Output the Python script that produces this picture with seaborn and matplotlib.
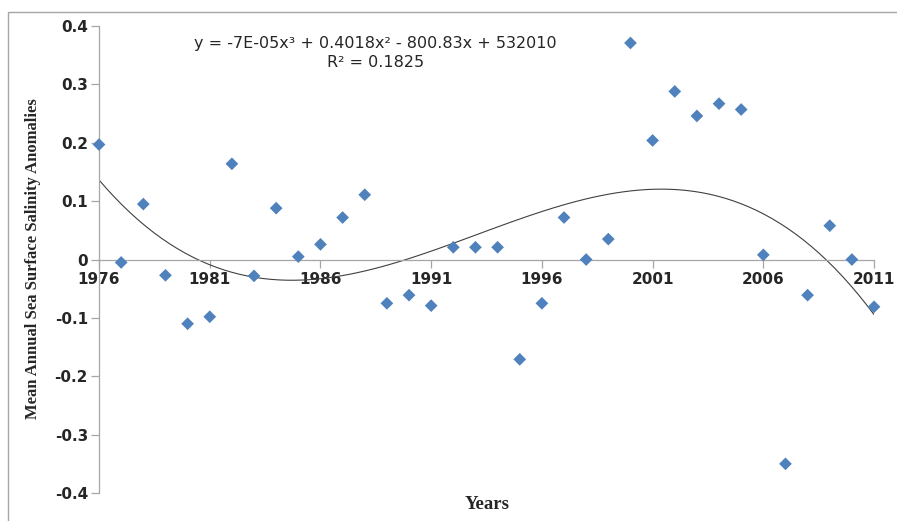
import numpy as np
import pandas as pd
import matplotlib
matplotlib.use('Agg')
import matplotlib.pyplot as plt
import seaborn as sns
from matplotlib.patches import Rectangle

# data
years = list(range(1976, 2012))
anomalies = [0.197, -0.005, 0.095, -0.027, -0.110, -0.098, 0.164, -0.028, 0.088, 0.005,
             0.026, 0.072, 0.111, -0.075, -0.061, -0.079, 0.021, 0.021, 0.021, -0.171,
             -0.075, 0.072, 0.000, 0.035, 0.371, 0.204, 0.288, 0.246, 0.267, 0.257,
             0.008, -0.350, -0.061, 0.058, 0.000, -0.081]
x_ticks = [1976, 1981, 1986, 1991, 1996, 2001, 2006, 2011]
y_ticks = [-0.4, -0.3, -0.2, -0.1, 0, 0.1, 0.2, 0.3, 0.4]
y_labels = ['-0.4', '-0.3', '-0.2', '-0.1', '0', '0.1', '0.2', '0.3', '0.4']
equation = 'y = -7E-05x³ + 0.4018x² - 800.83x + 532010'
r_squared = 'R² = 0.1825'

df = pd.DataFrame({'year': years, 'anomaly': anomalies})

sns.set_style('white')
fig = plt.figure(figsize=(8.97, 5.21), dpi=100)
ax = fig.add_axes([0.1104, 0.0537, 0.8640, 0.8963])

# outer chart frame
fig.patches.append(Rectangle((0.009, -0.01), 1.2, 0.987, transform=fig.transFigure,
                             fill=False, edgecolor='#a6a6a6', linewidth=1.0))

sns.regplot(data=df, x='year', y='anomaly', order=3, ci=None, scatter=False,
            truncate=True, line_kws={'color': '#404040', 'linewidth': 0.8}, ax=ax)
sns.scatterplot(data=df, x='year', y='anomaly', marker='D', s=42, color='#4f81bd',
                edgecolor='none', ax=ax, clip_on=False, zorder=3)

ax.set_xlim(1976, 2011)
ax.set_ylim(-0.4, 0.4)

# spines crossing at (1976, 0)
for side in ['top', 'right']:
    ax.spines[side].set_visible(False)
ax.spines['bottom'].set_position(('data', 0))
ax.spines['left'].set_color('#a6a6a6')
ax.spines['bottom'].set_color('#a6a6a6')
ax.spines['left'].set_linewidth(0.9)
ax.spines['bottom'].set_linewidth(0.9)

ax.set_xticks(x_ticks)
ax.set_xticklabels([str(t) for t in x_ticks], fontsize=11, fontweight='bold',
                   family='DejaVu Sans')
ax.set_yticks(y_ticks)
ax.set_yticklabels(y_labels, fontsize=11, fontweight='bold', family='DejaVu Sans')
ax.tick_params(axis='both', direction='out', length=6, width=0.9, color='#a6a6a6',
               bottom=True, left=True)
ax.tick_params(axis='x', pad=3)
ax.tick_params(axis='y', pad=2)

ax.set_xlabel('')
ax.set_ylabel('')
fig.text(0.037, 0.503, 'Mean Annual Sea Surface Salinity Anomalies', rotation=90,
         ha='center', va='center', fontsize=12, fontweight='bold',
         family='Liberation Serif')
fig.text(0.543, 0.031, 'Years', ha='center', va='center', fontsize=13.5,
         fontweight='bold', family='Liberation Serif')

fig.text(0.4186, 0.916, equation, ha='center', va='center', fontsize=11.5,
         family='DejaVu Sans')
fig.text(0.419, 0.880, r_squared, ha='center', va='center', fontsize=11.5,
         family='DejaVu Sans')

fig.savefig('out.png', dpi=100)
